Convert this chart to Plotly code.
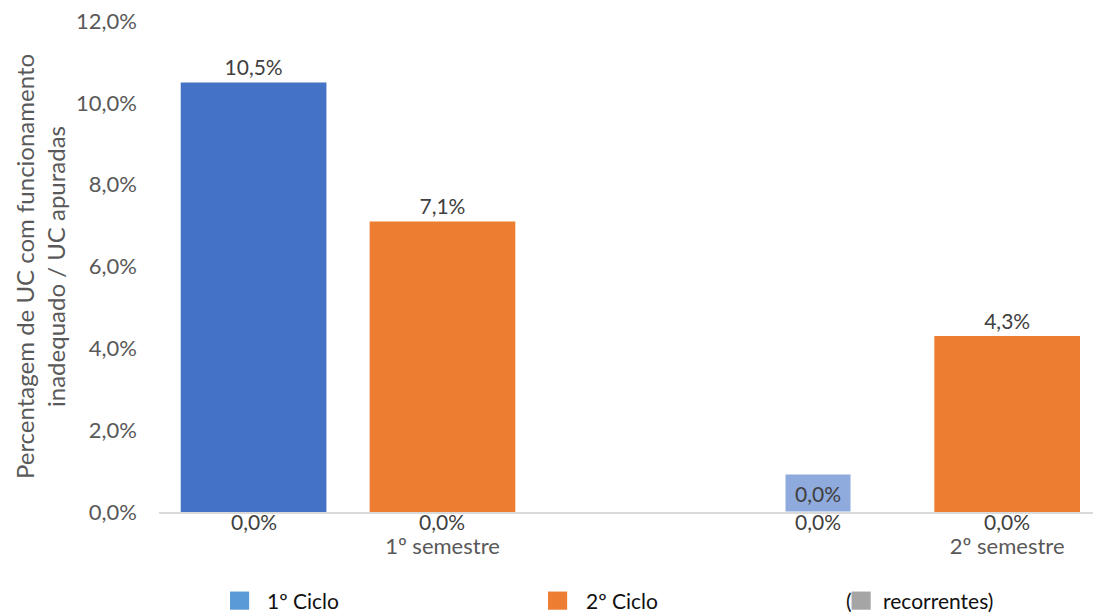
import plotly.graph_objects as go

# Categories and series
semestres = ["1º semestre", "2º semestre"]
ciclo1 = [0.105, 0.0]
ciclo2 = [0.071, 0.043]
recorrentes_c1 = [0.0, 0.0]
recorrentes_c2 = [0.0, 0.0]
y_ticks = [0.0, 0.02, 0.04, 0.06, 0.08, 0.10, 0.12]
legend_labels = ["1º Ciclo", "2º Ciclo", "recorrentes)"]

BLUE = "#4472C4"
BLUE_LEGEND = "#5B9BD5"
BLUE_LABEL_BG = "#8FAADC"
ORANGE = "#ED7D31"
GREY = "#A5A5A5"
AXIS_TXT = "#595959"
LABEL_TXT = "#404040"
FONT = "Lato"

SLOT = 0.3345   # distance between bar centres inside a group (category units)
BAR_W = 0.258   # bar width (category units)


def pct(v):
    return f"{v * 100:.1f}%".replace(".", ",")


fig = go.Figure()

fig.add_bar(
    name=legend_labels[0], x=semestres, y=ciclo1, width=BAR_W,
    offset=-SLOT - BAR_W / 2, marker_color=BLUE, marker_line_width=0,
    text=[pct(v) if v > 0 else "" for v in ciclo1], textposition="outside",
    textfont=dict(family=FONT, size=21, color=LABEL_TXT), cliponaxis=False,
    showlegend=False,
)
fig.add_bar(
    name=legend_labels[1], x=semestres, y=ciclo2, width=BAR_W,
    offset=-BAR_W / 2, marker_color=ORANGE, marker_line_width=0,
    text=[pct(v) if v > 0 else "" for v in ciclo2], textposition="outside",
    textfont=dict(family=FONT, size=21, color=LABEL_TXT), cliponaxis=False,
    showlegend=False,
)

annotations = []
# Zero-valued 1º Ciclo bars get a filled data-label box
for i, v in enumerate(ciclo1):
    if v == 0:
        annotations.append(dict(
            x=i - SLOT, y=v, xref="x", yref="y", text=pct(v), showarrow=False,
            xanchor="center", yanchor="bottom", bgcolor=BLUE_LABEL_BG,
            width=64, height=36, borderpad=0,
            font=dict(family=FONT, size=21, color=LABEL_TXT),
        ))
# "recorrentes" labels sit just under the baseline
for offs, series in ((-SLOT, recorrentes_c1), (0.0, recorrentes_c2)):
    for i, v in enumerate(series):
        annotations.append(dict(
            x=i + offs, y=v, xref="x", yref="y", text=pct(v), showarrow=False,
            xanchor="center", yanchor="top", yshift=5,
            font=dict(family=FONT, size=21, color=LABEL_TXT),
        ))

# Legend drawn below the plot
shapes = []
legend_items = [
    (BLUE_LEGEND, 0.076, legend_labels[0], 0.1135),
    (ORANGE, 0.4165, legend_labels[1], 0.4545),
    (GREY, 0.7415, legend_labels[2], 0.7735),
]
for color, x0, label, tx in legend_items:
    shapes.append(dict(type="rect", xref="paper", yref="paper",
                       x0=x0, x1=x0 + 0.0205, y0=-0.199, y1=-0.162,
                       fillcolor=color, line_width=0))
    annotations.append(dict(x=tx, y=-0.181, xref="paper", yref="paper",
                            text=label, showarrow=False, xanchor="left",
                            yanchor="middle",
                            font=dict(family=FONT, size=21, color="#111111")))
annotations.append(dict(x=0.7335, y=-0.181, xref="paper", yref="paper",
                        text="(", showarrow=False, xanchor="left",
                        yanchor="middle",
                        font=dict(family=FONT, size=21, color="#111111")))

fig.update_layout(
    width=1093, height=616,
    margin=dict(l=159, r=0, t=21, b=104),
    paper_bgcolor="white", plot_bgcolor="white",
    separators=",.",
    barmode="overlay",
    showlegend=False,
    font=dict(family=FONT, size=21, color=AXIS_TXT),
    annotations=annotations,
    shapes=shapes,
)
fig.update_xaxes(
    type="category", categoryorder="array", categoryarray=semestres,
    range=[-0.502, 1.152], showline=True, linecolor="#D9D9D9", linewidth=1.5,
    ticks="", showgrid=False, zeroline=False, ticklabelstandoff=14,
    tickfont=dict(family=FONT, size=22, color=AXIS_TXT),
)
fig.update_yaxes(
    range=[0, 0.12], tickvals=y_ticks, tickformat=".1%", showgrid=False,
    zeroline=False, showline=False, ticks="", ticklabelstandoff=21,
    tickfont=dict(family=FONT, size=22, color=AXIS_TXT),
    title=dict(text="Percentagem de UC com funcionamento<br>inadequado / UC apuradas",
               font=dict(family=FONT, size=24, color=AXIS_TXT), standoff=3),
)

fig.write_html("out.html")
